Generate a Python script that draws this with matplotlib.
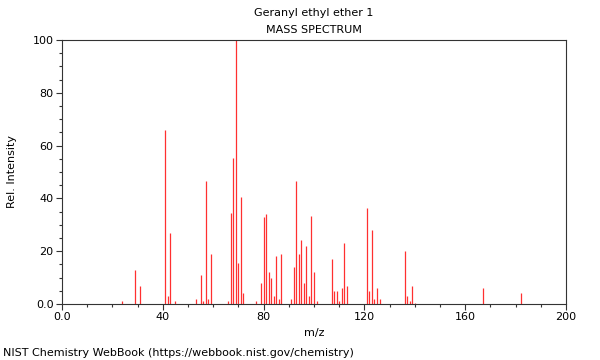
import matplotlib
matplotlib.use("Agg")
import matplotlib.pyplot as plt
from matplotlib.ticker import MultipleLocator, FixedLocator

title = "Geranyl ethyl ether 1"
subtitle = "MASS SPECTRUM"
footer = "NIST Chemistry WebBook (https://webbook.nist.gov/chemistry)"

# m/z and relative intensity
mz = [24, 29, 31, 41, 42, 43, 45, 53, 55, 56, 57, 58, 59, 66, 67, 68, 69, 70, 71, 72,
      77, 79, 80, 81, 82, 83, 84, 85, 86, 87, 91, 92, 93, 94, 95, 96, 97, 98, 99, 100,
      101, 107, 108, 109, 110, 111, 112, 113, 121, 122, 123, 124, 125, 126,
      136, 137, 138, 139, 140, 167, 182]
intensity = [1, 13, 7, 66, 3, 27, 1, 2, 11, 1, 46.5, 2, 19, 1, 34.6, 55.4, 100, 15.4, 40.4, 4,
             1, 8, 33, 34.2, 12, 10, 3, 18, 2, 19, 2, 14, 46.6, 19, 24.2, 8, 22, 3, 33.3, 12,
             1, 17.2, 5, 5, 1, 6, 23, 6.8, 36.4, 5, 28, 2, 6, 2,
             20, 3, 1, 7, 0.5, 6, 4.2]

x_ticks = [0, 40, 80, 120, 160, 200]
x_labels = ["0.0", "40", "80", "120", "160", "200"]
y_ticks = [0, 20, 40, 60, 80, 100]
y_labels = ["0.0", "20", "40", "60", "80", "100"]

fig = plt.figure(figsize=(6, 3.6), dpi=100)
ax = fig.add_axes([62/600, 1-304/360, 504/600, 264/360])

ax.vlines(mz, 0, intensity, color="#ff3030", linewidth=0.9)

ax.set_xlim(0, 200)
ax.set_ylim(0, 100)
ax.xaxis.set_major_locator(FixedLocator(x_ticks))
ax.set_xticklabels(x_labels)
ax.yaxis.set_major_locator(FixedLocator(y_ticks))
ax.set_yticklabels(y_labels)
ax.xaxis.set_minor_locator(MultipleLocator(10))
ax.yaxis.set_minor_locator(MultipleLocator(5))
ax.tick_params(which="major", length=4, width=0.8, labelsize=8, color="#333333", pad=2)
ax.tick_params(which="minor", length=2, width=0.8, color="#333333")
for s in ax.spines.values():
    s.set_color("#333333")
    s.set_linewidth(0.8)

ax.set_xlabel("m/z", fontsize=8, labelpad=4)
ax.set_ylabel("Rel. Intensity", fontsize=8, labelpad=11)

fig.text(314/600, 1-13/360, title, ha="center", va="center", fontsize=8)
fig.text(314/600, 1-30/360, subtitle, ha="center", va="center", fontsize=8)
fig.text(3/600, 1-353/360, footer, ha="left", va="center", fontsize=8)

fig.savefig("out.png", dpi=100)
